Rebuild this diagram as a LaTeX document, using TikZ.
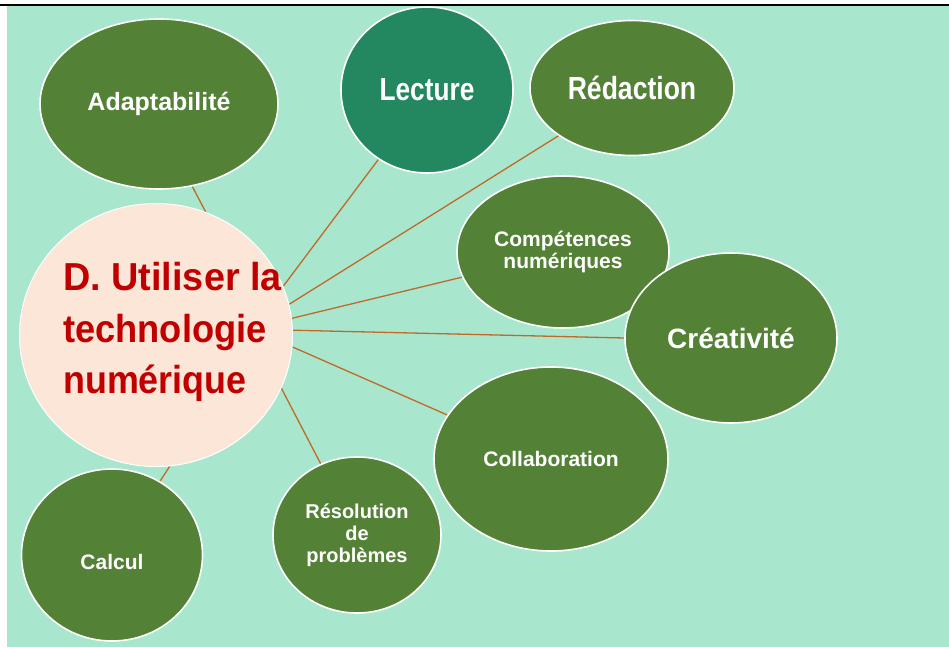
\documentclass[tikz,border=0pt]{standalone}
\usepackage{fontspec}
\setmainfont{Liberation Sans}
\usetikzlibrary{shapes.geometric,backgrounds}
\definecolor{mint}{HTML}{A8E7CD}
\definecolor{leaf}{HTML}{538135}
\definecolor{lecturegreen}{HTML}{23875F}
\definecolor{peach}{HTML}{FBE6D7}
\definecolor{hubred}{HTML}{C00000}
\definecolor{rust}{HTML}{C0692A}
\newcommand{\hubline}[2][0.93]{\scalebox{#1}[1]{#2}}
\begin{document}
\begin{tikzpicture}[x=1pt,y=-1pt,
    bubble/.style={ellipse, fill=leaf, draw=white, line width=1.6pt, inner sep=0pt,
        text=white, align=center},
    link/.style={draw=rust, line width=1.3pt}]
    \useasboundingbox (0,0) rectangle (949,647);

    % the circles
    \node[bubble, minimum width=238pt, minimum height=170pt,
        font=\bfseries\fontsize{25}{28}\selectfont] (adapt) at (159,104) {Adaptabilité};
    \node[bubble, fill=lecturegreen, minimum width=172pt, minimum height=166pt,
        font=\bfseries\fontsize{32}{34}\selectfont] (lecture) at (427,90) {\scalebox{0.82}[1]{Lecture}};
    \node[bubble, minimum width=204pt, minimum height=135pt,
        font=\bfseries\fontsize{32}{34}\selectfont] (redac) at (632,88) {\scalebox{0.83}[1]{Rédaction}};
    \node[bubble, minimum width=212pt, minimum height=152pt,
        font=\bfseries\fontsize{21}{22}\selectfont] (comp) at (563,252) {Compétences\\numériques};
    \node[bubble, minimum width=234pt, minimum height=184pt,
        font=\bfseries\fontsize{21}{22}\selectfont] (collab) at (551,459) {Collaboration};
    \node[bubble, minimum width=212pt, minimum height=170pt,
        font=\bfseries\fontsize{28}{30}\selectfont] (crea) at (731,338) {Créativité};
    \node[bubble, minimum width=168pt, minimum height=156pt,
        font=\bfseries\fontsize{20}{22}\selectfont] (resol) at (357,535) {Résolution\\de\\problèmes};
    \node[bubble, minimum width=181pt, minimum height=172pt, text height=29pt,
        font=\bfseries\fontsize{21}{22}\selectfont] (calcul) at (112,555) {Calcul};

    % centre
    \node[ellipse, fill=peach, draw=white, line width=1pt,
        minimum width=273pt, minimum height=263pt] (hub) at (156,335) {};
    \node[anchor=west, align=left, inner sep=0pt, text=hubred,
        font=\bfseries\fontsize{39}{51.5}\selectfont] (hubtxt) at (63,332)
        {\hubline[0.97]{D. Utiliser la}\\\hubline{technologie}\\\hubline[0.92]{numérique}};

    \begin{scope}[on background layer]
        \fill[mint] (7,6.5) rectangle (949,647);
        \draw[line width=2pt] (0,5.5) -- (949,5.5);
        \draw[link] (hub.68) -- (adapt.-68);
        \draw[link] (hub.21) -- (lecture.-125);
        \draw[link] (hub.13) -- (redac.-147);
        \draw[link] (hub.7) -- (comp.-166);
        \draw[link] (hub.2) -- (crea.180);
        \draw[link] (hub.-5) -- (collab.157);
        \draw[link] (hub.-23) -- (resol.117);
        \draw[link] (hub.-84) -- (calcul.57);
    \end{scope}
\end{tikzpicture}
\end{document}
